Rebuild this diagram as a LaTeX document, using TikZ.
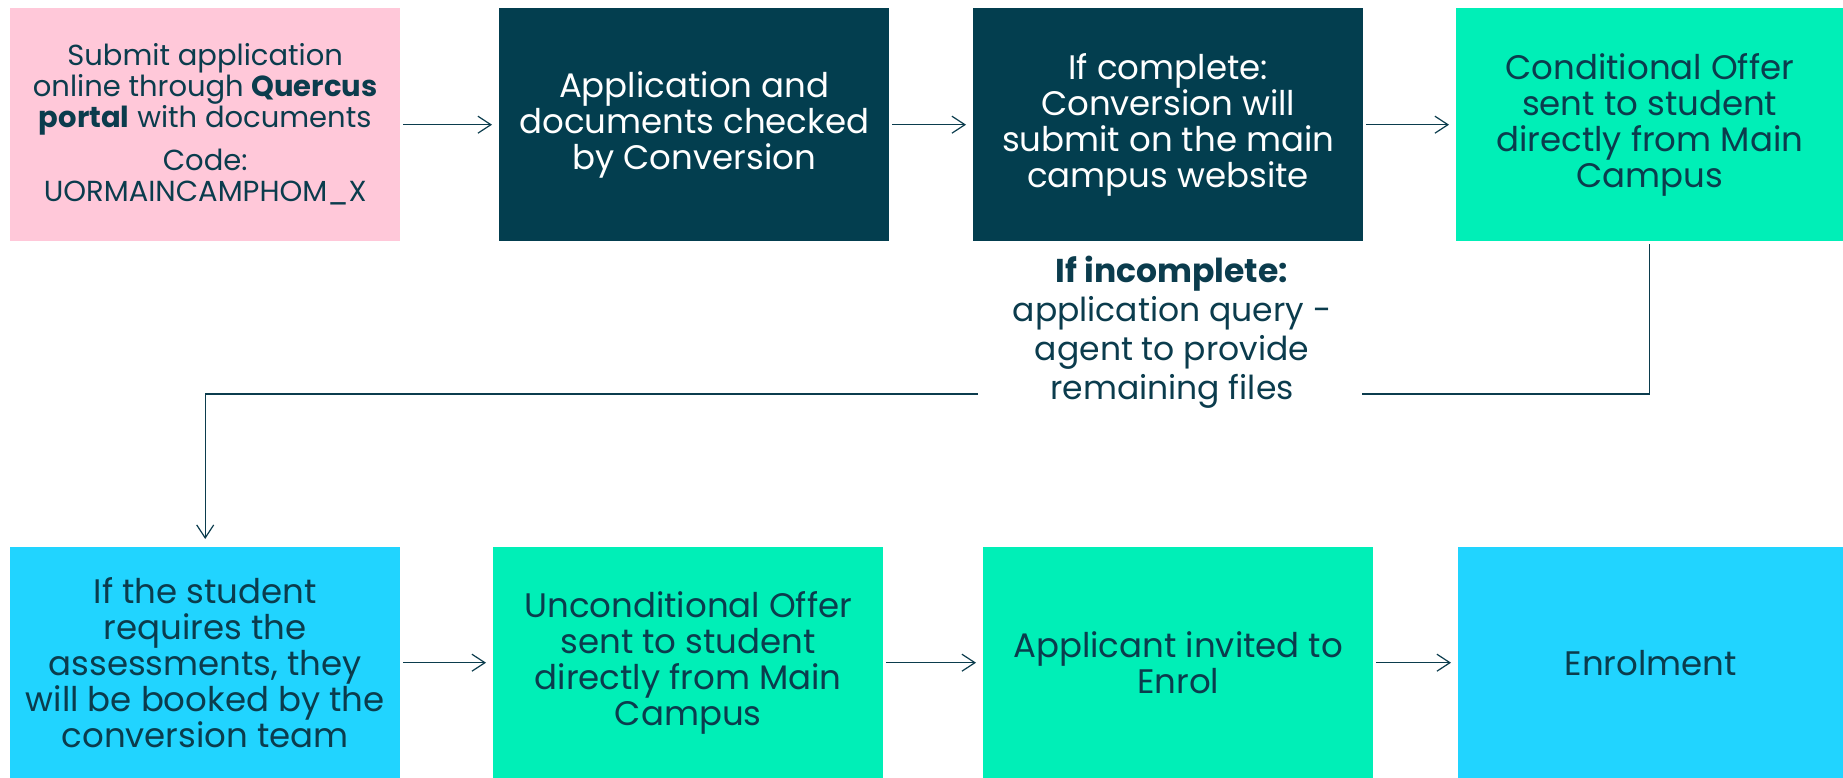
\documentclass[tikz,border=0pt]{standalone}
\usepackage{fontspec}
\setmainfont{Poppins}
\usetikzlibrary{arrows.meta}
\definecolor{qpink}{HTML}{FFC8D9}
\definecolor{qnavy}{HTML}{033E4F}
\definecolor{qmint}{HTML}{00EFB7}
\definecolor{qsky}{HTML}{21D4FF}
\definecolor{qink}{HTML}{0B3C4D}
\tikzset{
	stepbox/.style={rectangle, anchor=north west, inner sep=0pt, align=center, text=qink, font=\fontsize{34}{36}\selectfont},
	flow/.style={draw=qink, line width=1.2pt, -{Straight Barb[length=13pt,width=17pt]}, shorten <=3pt, shorten >=7pt},
	link/.style={draw=qink, line width=1.2pt},
}

\begin{document}
\begin{tikzpicture}[x=1pt, y=-1pt]
		%%%%% START %%%%%
		\useasboundingbox (0,0) rectangle (1843,778);
		
		% top row
		\node[stepbox, fill=qpink, minimum width=390pt, minimum height=233pt, font=\fontsize{29}{31}\selectfont] (submit) at (10,8) {Submit application\\online through \textbf{Quercus}\\\textbf{portal} with documents\\[12pt]Code:\\UORMAINCAMPHOM\_X};
		\node[stepbox, fill=qnavy, text=white, minimum width=390pt, minimum height=233pt] (checked) at (499,8) {Application and\\documents checked\\by Conversion};
		\node[stepbox, fill=qnavy, text=white, minimum width=390pt, minimum height=233pt] (complete) at (973,8) {If complete:\\Conversion will\\submit on the main\\campus website};
		\node[stepbox, fill=qmint, minimum width=387pt, minimum height=233pt] (offer) at (1456,8) {Conditional Offer\\sent to student\\directly from Main\\Campus};
		
		\draw[flow] (submit) -- (checked);
		\draw[flow] (checked) -- (complete);
		\draw[flow] (complete) -- (offer);
		
		% query note and return line
		\node[align=center, text=qink, font=\fontsize{33}{39}\selectfont] (incomplete) at (1172,332) {\textbf{If incomplete:}\\application query -\\agent to provide\\remaining files};
		\coordinate (turnR) at (1362,394);
		\coordinate (turnL) at (978,394);
		
		% bottom row
		\node[stepbox, fill=qsky, minimum width=390pt, minimum height=231pt] (assess) at (10,547) {If the student\\requires the\\assessments, they\\will be booked by the\\conversion team};
		\node[stepbox, fill=qmint, minimum width=390pt, minimum height=231pt] (uncond) at (493,547) {Unconditional Offer\\sent to student\\directly from Main\\Campus};
		\node[stepbox, fill=qmint, minimum width=390pt, minimum height=231pt] (invited) at (983,547) {Applicant invited to\\Enrol};
		\node[stepbox, fill=qsky, minimum width=385pt, minimum height=231pt] (enrol) at (1458,547) {Enrolment};
		
		\draw[link, shorten <=3pt] (offer) |- (turnR);
		\draw[flow, shorten <=0pt, shorten >=8pt] (turnL) -| (assess);
		
		\draw[flow] (assess) -- (uncond);
		\draw[flow] (uncond) -- (invited);
		\draw[flow] (invited) -- (enrol);
		%%%%% END %%%%%
\end{tikzpicture}
\end{document}
